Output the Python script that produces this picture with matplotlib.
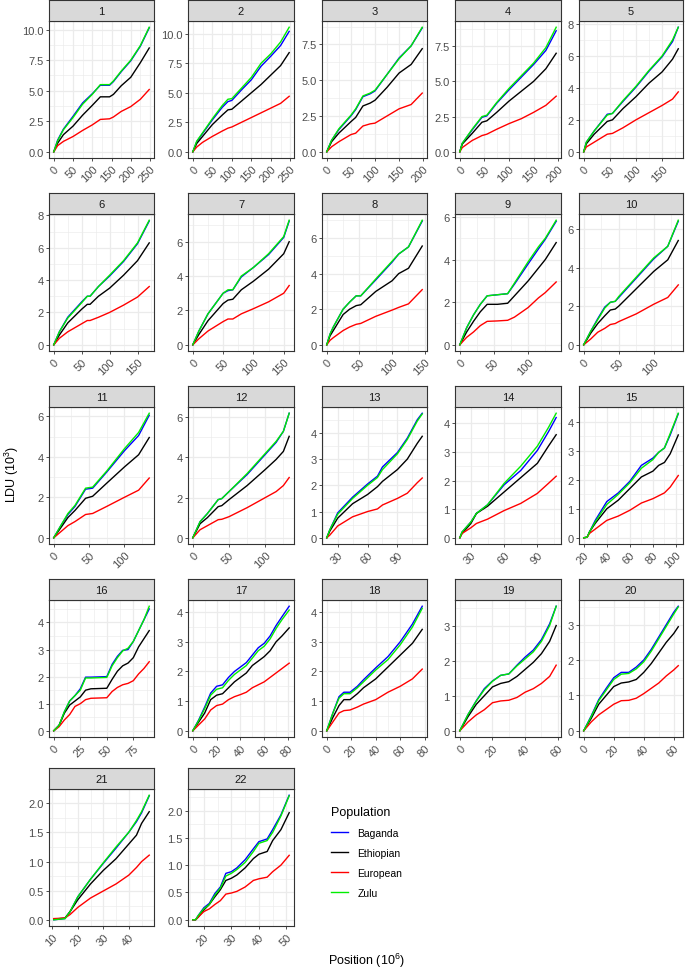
import matplotlib
matplotlib.use('Agg')
import matplotlib.pyplot as plt
from matplotlib.ticker import MultipleLocator, FormatStrFormatter

plt.rcParams.update({
    'font.family': ['Liberation Sans', 'DejaVu Sans'],
    'mathtext.default': 'regular',
})

# ---- data: cumulative LDU (10^3) along each chromosome (Mb) ----
chroms = [str(i) for i in range(1, 23)]
populations = ['Baganda', 'Ethiopian', 'European', 'Zulu']
pop_colors = ['#0000FF', '#000000', '#FF0000', '#00EE00']

positions = [
    [0, 10, 25, 50, 75, 100, 121, 145, 155, 175, 200, 225, 248],                 # 1
    [0, 10, 25, 50, 75, 90, 100, 125, 150, 175, 200, 225, 247],                  # 2
    [0, 10, 25, 50, 60, 75, 90, 100, 125, 150, 175, 198],                        # 3
    [0, 5, 25, 45, 55, 75, 100, 125, 150, 175, 196],                             # 4
    [0, 5, 20, 45, 55, 75, 100, 125, 150, 170, 181],                             # 5
    [0, 10, 25, 50, 60, 65, 80, 100, 125, 150, 171],                             # 6
    [0, 10, 25, 50, 58, 66, 80, 100, 125, 150, 159],                             # 7
    [0, 5, 10, 25, 35, 45, 52, 75, 100, 110, 125, 146],                          # 8
    [0, 10, 20, 30, 40, 55, 70, 80, 100, 115, 125, 141],                         # 9
    [0, 10, 20, 30, 38, 45, 50, 75, 100, 120, 135],                              # 10
    [0, 10, 20, 30, 45, 55, 75, 100, 120, 135],                                  # 11
    [0, 10, 20, 35, 40, 50, 75, 100, 115, 125, 133],                             # 12
    [19, 22, 30, 45, 60, 70, 75, 90, 100, 110, 115],                             # 13
    [20, 22, 30, 35, 45, 60, 75, 90, 100, 107],                                  # 14
    [20, 23, 25, 30, 40, 50, 60, 70, 80, 85, 90, 95, 102],                       # 15
    [0, 5, 10, 15, 20, 25, 30, 35, 50, 55, 60, 65, 70, 75, 80, 85, 90],          # 16
    [0, 5, 10, 15, 20, 25, 30, 35, 40, 45, 50, 55, 60, 65, 70, 75, 81],          # 17
    [0, 5, 10, 14, 19, 25, 30, 40, 50, 60, 70, 78],                              # 18
    [0, 5, 10, 15, 20, 25, 30, 35, 40, 45, 50, 55, 59],                          # 19
    [0, 5, 10, 15, 20, 25, 30, 35, 40, 45, 50, 55, 60, 63],                      # 20
    [10.6, 15, 17, 20, 25, 30, 35, 40, 43, 45, 48],                              # 21
    [16, 17, 18, 20, 22, 24, 26, 28, 30, 32, 35, 38, 40, 43, 45, 48, 51],        # 22
]

baganda = [
    [0, 0.95, 1.85, 2.9, 4.0, 4.75, 5.45, 5.45, 5.75, 6.55, 7.45, 8.65, 10.15],
    [0, 0.85, 1.55, 2.7, 3.75, 4.25, 4.35, 5.25, 6.1, 7.25, 8.1, 9.0, 10.2],
    [0, 0.8, 1.55, 2.5, 2.95, 3.85, 4.05, 4.25, 5.4, 6.55, 7.4, 8.65],
    [0, 0.6, 1.55, 2.45, 2.55, 3.45, 4.4, 5.3, 6.2, 7.2, 8.6],
    [0, 0.6, 1.3, 2.35, 2.4, 3.15, 4.05, 5.05, 5.95, 6.9, 7.8],
    [0, 0.8, 1.7, 2.65, 3.0, 3.0, 3.6, 4.25, 5.15, 6.25, 7.65],
    [0, 0.8, 1.8, 3.0, 3.15, 3.2, 3.95, 4.5, 5.25, 6.25, 7.2],
    [0, 0.6, 1.0, 2.0, 2.4, 2.75, 2.75, 3.65, 4.65, 5.1, 5.5, 6.95],
    [0, 0.8, 1.4, 1.9, 2.3, 2.35, 2.4, 2.85, 3.8, 4.5, 4.95, 5.8],
    [0, 0.7, 1.35, 1.95, 2.2, 2.25, 2.45, 3.45, 4.45, 5.1, 6.4],
    [0, 0.6, 1.15, 1.55, 2.4, 2.45, 3.25, 4.3, 5.05, 6.05],
    [0, 0.8, 1.2, 1.9, 1.95, 2.3, 3.15, 4.15, 4.75, 5.3, 6.2],
    [0, 0.3, 0.95, 1.55, 2.05, 2.35, 2.7, 3.25, 3.8, 4.5, 4.75],
    [0, 0.2, 0.55, 0.85, 1.15, 1.85, 2.35, 3.05, 3.7, 4.2],
    [0, 0.02, 0.2, 0.6, 1.25, 1.55, 1.95, 2.5, 2.75, 2.95, 3.1, 3.55, 4.28],
    [0, 0.2, 0.7, 1.1, 1.3, 1.55, 1.98, 1.98, 2.0, 2.45, 2.75, 2.97, 3.0, 3.3, 3.7, 4.1, 4.5],
    [0, 0.37, 0.8, 1.27, 1.5, 1.55, 1.8, 2.0, 2.15, 2.3, 2.55, 2.8, 2.95, 3.2, 3.55, 3.85, 4.2],
    [0, 0.6, 1.15, 1.3, 1.3, 1.5, 1.72, 2.12, 2.5, 3.0, 3.6, 4.2],
    [0, 0.46, 0.85, 1.2, 1.42, 1.58, 1.62, 1.87, 2.1, 2.3, 2.6, 3.05, 3.55],
    [0, 0.42, 0.88, 1.2, 1.5, 1.65, 1.65, 1.8, 2.0, 2.3, 2.65, 3.0, 3.35, 3.52],
    [0.01, 0.03, 0.15, 0.4, 0.7, 0.97, 1.23, 1.5, 1.68, 1.83, 2.12],
    [0, 0, 0.08, 0.22, 0.3, 0.48, 0.6, 0.85, 0.88, 0.95, 1.1, 1.3, 1.43, 1.48, 1.65, 1.92, 2.28],
]

ethiopian = [
    [0, 0.7, 1.4, 2.1, 3.0, 3.8, 4.5, 4.5, 4.7, 5.4, 6.1, 7.3, 8.5],
    [0, 0.7, 1.3, 2.3, 3.1, 3.55, 3.6, 4.3, 5.0, 5.7, 6.5, 7.3, 8.4],
    [0, 0.7, 1.3, 2.1, 2.4, 3.2, 3.4, 3.6, 4.5, 5.5, 6.1, 7.2],
    [0, 0.55, 1.3, 2.1, 2.2, 2.8, 3.6, 4.3, 5.0, 5.9, 7.0],
    [0, 0.5, 1.1, 1.9, 2.0, 2.7, 3.45, 4.3, 5.0, 5.8, 6.45],
    [0, 0.6, 1.35, 2.2, 2.5, 2.5, 3.0, 3.5, 4.3, 5.2, 6.3],
    [0, 0.6, 1.4, 2.4, 2.6, 2.65, 3.2, 3.7, 4.4, 5.3, 6.0],
    [0, 0.5, 0.8, 1.7, 2.0, 2.2, 2.25, 3.0, 3.6, 4.0, 4.3, 5.55],
    [0, 0.6, 1.1, 1.55, 1.9, 1.9, 1.95, 2.3, 3.0, 3.6, 4.0, 4.8],
    [0, 0.6, 1.1, 1.5, 1.8, 1.85, 2.0, 2.9, 3.8, 4.4, 5.4],
    [0, 0.5, 1.0, 1.35, 1.95, 2.05, 2.7, 3.5, 4.1, 4.95],
    [0, 0.7, 1.0, 1.55, 1.6, 1.9, 2.6, 3.4, 3.9, 4.3, 5.05],
    [0, 0.25, 0.75, 1.3, 1.65, 1.95, 2.15, 2.6, 3.0, 3.6, 3.87],
    [0, 0.15, 0.5, 0.85, 1.1, 1.6, 2.1, 2.6, 3.2, 3.6],
    [0, 0.02, 0.2, 0.5, 1.0, 1.3, 1.7, 2.1, 2.3, 2.5, 2.6, 2.9, 3.55],
    [0, 0.2, 0.65, 0.95, 1.1, 1.25, 1.5, 1.55, 1.57, 1.9, 2.2, 2.4, 2.5, 2.7, 3.1, 3.4, 3.7],
    [0, 0.3, 0.6, 1.05, 1.2, 1.25, 1.45, 1.65, 1.8, 1.95, 2.2, 2.35, 2.5, 2.7, 3.0, 3.2, 3.47],
    [0, 0.45, 0.85, 1.05, 1.05, 1.25, 1.45, 1.75, 2.15, 2.55, 2.95, 3.42],
    [0, 0.4, 0.75, 1.0, 1.25, 1.35, 1.4, 1.55, 1.75, 1.95, 2.2, 2.55, 3.0],
    [0, 0.35, 0.75, 1.0, 1.25, 1.35, 1.38, 1.45, 1.65, 1.9, 2.2, 2.5, 2.75, 2.94],
    [0.02, 0.04, 0.15, 0.35, 0.62, 0.85, 1.05, 1.3, 1.45, 1.65, 1.85],
    [0, 0, 0.05, 0.18, 0.28, 0.42, 0.55, 0.72, 0.76, 0.82, 0.95, 1.12, 1.2, 1.25, 1.45, 1.65, 1.96],
]

european = [
    [0, 0.5, 0.85, 1.25, 1.75, 2.2, 2.65, 2.7, 2.85, 3.3, 3.7, 4.3, 5.1],
    [0, 0.4, 0.8, 1.3, 1.75, 2.0, 2.1, 2.5, 2.9, 3.3, 3.7, 4.1, 4.7],
    [0, 0.35, 0.7, 1.2, 1.3, 1.8, 1.95, 2.0, 2.5, 3.0, 3.3, 4.1],
    [0, 0.3, 0.8, 1.15, 1.25, 1.6, 2.0, 2.35, 2.8, 3.3, 3.95],
    [0, 0.3, 0.6, 1.1, 1.15, 1.5, 2.0, 2.45, 2.9, 3.3, 3.75],
    [0, 0.4, 0.8, 1.3, 1.5, 1.5, 1.7, 2.0, 2.45, 2.95, 3.6],
    [0, 0.35, 0.8, 1.35, 1.5, 1.5, 1.8, 2.1, 2.5, 3.0, 3.45],
    [0, 0.25, 0.4, 0.8, 1.0, 1.15, 1.2, 1.6, 1.95, 2.1, 2.3, 3.1],
    [0, 0.35, 0.6, 0.9, 1.1, 1.12, 1.15, 1.3, 1.75, 2.2, 2.45, 2.95],
    [0, 0.3, 0.65, 0.85, 1.05, 1.1, 1.2, 1.6, 2.1, 2.45, 3.1],
    [0, 0.3, 0.6, 0.8, 1.15, 1.2, 1.55, 2.0, 2.35, 2.95],
    [0, 0.4, 0.6, 0.9, 0.92, 1.05, 1.5, 2.0, 2.3, 2.6, 3.0],
    [0, 0.1, 0.45, 0.8, 1.0, 1.1, 1.25, 1.5, 1.7, 2.1, 2.28],
    [0, 0.15, 0.35, 0.5, 0.65, 0.95, 1.2, 1.55, 1.9, 2.15],
    [0, 0.02, 0.15, 0.3, 0.6, 0.75, 0.95, 1.2, 1.35, 1.45, 1.55, 1.75, 2.15],
    [0, 0.15, 0.4, 0.6, 0.9, 1.0, 1.15, 1.2, 1.22, 1.45, 1.6, 1.7, 1.75, 1.85, 2.1, 2.3, 2.55],
    [0, 0.2, 0.4, 0.7, 0.85, 0.9, 1.05, 1.15, 1.22, 1.3, 1.45, 1.55, 1.65, 1.8, 1.95, 2.1, 2.28],
    [0, 0.3, 0.6, 0.68, 0.7, 0.8, 0.9, 1.05, 1.3, 1.5, 1.75, 2.08],
    [0, 0.25, 0.45, 0.6, 0.8, 0.85, 0.87, 0.95, 1.1, 1.2, 1.35, 1.55, 1.87],
    [0, 0.25, 0.45, 0.6, 0.75, 0.85, 0.86, 0.92, 1.05, 1.2, 1.35, 1.55, 1.72, 1.84],
    [0.03, 0.04, 0.1, 0.22, 0.38, 0.5, 0.62, 0.77, 0.9, 1.0, 1.11],
    [0, 0, 0.05, 0.15, 0.2, 0.28, 0.35, 0.47, 0.49, 0.52, 0.6, 0.72, 0.75, 0.78, 0.88, 1.0, 1.18],
]

zulu = [
    [0, 0.9, 1.8, 2.8, 3.9, 4.7, 5.5, 5.5, 5.8, 6.6, 7.5, 8.7, 10.2],
    [0, 0.9, 1.6, 2.8, 3.9, 4.45, 4.5, 5.4, 6.3, 7.5, 8.3, 9.3, 10.55],
    [0, 0.8, 1.6, 2.55, 3.0, 3.9, 4.1, 4.3, 5.4, 6.5, 7.4, 8.7],
    [0, 0.6, 1.6, 2.5, 2.6, 3.5, 4.5, 5.4, 6.3, 7.4, 8.85],
    [0, 0.6, 1.3, 2.3, 2.4, 3.2, 4.1, 5.1, 6.0, 7.0, 7.8],
    [0, 0.8, 1.65, 2.6, 3.0, 3.0, 3.6, 4.3, 5.2, 6.3, 7.7],
    [0, 0.8, 1.8, 3.0, 3.2, 3.2, 4.0, 4.5, 5.3, 6.3, 7.25],
    [0, 0.6, 1.0, 2.0, 2.4, 2.75, 2.75, 3.7, 4.7, 5.1, 5.5, 7.0],
    [0, 0.8, 1.4, 1.9, 2.3, 2.35, 2.4, 2.9, 3.9, 4.6, 5.0, 5.85],
    [0, 0.7, 1.3, 1.9, 2.2, 2.25, 2.5, 3.5, 4.5, 5.1, 6.45],
    [0, 0.6, 1.2, 1.6, 2.45, 2.5, 3.3, 4.4, 5.2, 6.15],
    [0, 0.8, 1.2, 1.9, 1.95, 2.3, 3.2, 4.2, 4.8, 5.3, 6.2],
    [0, 0.3, 0.9, 1.5, 2.0, 2.3, 2.6, 3.2, 3.75, 4.45, 4.72],
    [0, 0.2, 0.55, 0.85, 1.15, 1.9, 2.5, 3.2, 3.85, 4.35],
    [0, 0.02, 0.2, 0.55, 1.15, 1.5, 1.9, 2.4, 2.7, 2.95, 3.1, 3.6, 4.3],
    [0, 0.2, 0.7, 1.1, 1.3, 1.5, 1.95, 1.95, 1.97, 2.4, 2.7, 2.95, 3.05, 3.3, 3.7, 4.1, 4.6],
    [0, 0.35, 0.75, 1.2, 1.4, 1.45, 1.7, 1.9, 2.05, 2.2, 2.45, 2.7, 2.85, 3.1, 3.45, 3.75, 4.07],
    [0, 0.6, 1.1, 1.25, 1.25, 1.45, 1.65, 2.05, 2.4, 2.9, 3.5, 4.13],
    [0, 0.46, 0.84, 1.17, 1.41, 1.58, 1.62, 1.85, 2.05, 2.25, 2.55, 3.0, 3.55],
    [0, 0.4, 0.85, 1.15, 1.45, 1.6, 1.62, 1.75, 1.95, 2.25, 2.6, 2.95, 3.3, 3.5],
    [0.01, 0.03, 0.15, 0.4, 0.7, 0.98, 1.25, 1.5, 1.7, 1.85, 2.13],
    [0, 0, 0.08, 0.2, 0.28, 0.45, 0.58, 0.8, 0.85, 0.92, 1.05, 1.25, 1.4, 1.45, 1.6, 1.9, 2.27],
]

# axis break spacing per panel
x_steps = [50, 50, 50, 50, 50, 50, 50, 50, 50, 50, 50, 50, 30, 30, 20, 25, 20, 20, 20, 20, 10, 10]
y_steps = [2.5, 2.5, 2.5, 2.5, 2, 2, 2, 2, 2, 2, 2, 2, 1, 1, 1, 1, 1, 1, 1, 1, 0.5, 0.5]

# ---- layout (pixels) ----
W, H = 685, 970
col_left = [49, 188, 322, 455, 579]
col_width = [105, 106, 105, 106, 104]
row_top = [22, 215, 408, 601, 790]
panel_h = 137
strip_h = 21

fig = plt.figure(figsize=(W / 100, H / 100), dpi=100)

series = [baganda, ethiopian, european, zulu]
handles = []
for i, ch in enumerate(chroms):
    r, c = divmod(i, 5)
    left, top, w = col_left[c], row_top[r], col_width[c]
    ax = fig.add_axes([left / W, 1 - (top + panel_h) / H, w / W, panel_h / H])
    sax = fig.add_axes([left / W, 1 - top / H, w / W, strip_h / H])

    handles = []
    for pop, col, vals in zip(populations, pop_colors, series):
        ln, = ax.plot(positions[i], vals[i], color=col, lw=1.0, label=pop)
        handles.append(ln)

    ax.margins(0.05)
    ax.xaxis.set_major_locator(MultipleLocator(x_steps[i]))
    ax.xaxis.set_minor_locator(MultipleLocator(x_steps[i] / 2))
    ax.yaxis.set_major_locator(MultipleLocator(y_steps[i]))
    ax.yaxis.set_minor_locator(MultipleLocator(y_steps[i] / 2))
    if y_steps[i] % 1:
        ax.yaxis.set_major_formatter(FormatStrFormatter('%.1f'))
    else:
        ax.yaxis.set_major_formatter(FormatStrFormatter('%d'))
    ax.xaxis.set_major_formatter(FormatStrFormatter('%d'))

    ax.set_axisbelow(True)
    ax.grid(which='major', color='#EBEBEB', lw=0.9)
    ax.grid(which='minor', color='#EBEBEB', lw=0.45)
    ax.tick_params(which='major', length=2.5, width=0.6, color='#333333',
                   labelsize=8, labelcolor='#4D4D4D', pad=1.5)
    ax.tick_params(which='minor', length=0)
    for lab in ax.get_xticklabels():
        lab.set_rotation(45)
        lab.set_ha('right')
        lab.set_va('top')
        lab.set_rotation_mode('anchor')
    for sp in ax.spines.values():
        sp.set_color('#333333')
        sp.set_linewidth(0.8)

    sax.set_facecolor('#D9D9D9')
    sax.set_xticks([])
    sax.set_yticks([])
    for sp in sax.spines.values():
        sp.set_color('#333333')
        sp.set_linewidth(0.8)
    sax.text(0.5, 0.48, ch, ha='center', va='center', fontsize=8,
             color='#1A1A1A', transform=sax.transAxes)

fig.text(12 / W, 1 - 474 / H, 'LDU (10$^{3}$)', rotation=90,
         ha='center', va='center', fontsize=9)
fig.text(366 / W, 1 - 961 / H, 'Position (10$^{6}$)',
         ha='center', va='center', fontsize=9)

leg = fig.legend(handles, populations, loc='upper left',
                 bbox_to_anchor=(326 / W, 1 - 802 / H), frameon=False,
                 fontsize=7.5, title='Population', title_fontsize=9,
                 handlelength=1.6, handletextpad=0.9, labelspacing=0.95,
                 borderpad=0, alignment='left')

fig.savefig('out.png', dpi=100)
